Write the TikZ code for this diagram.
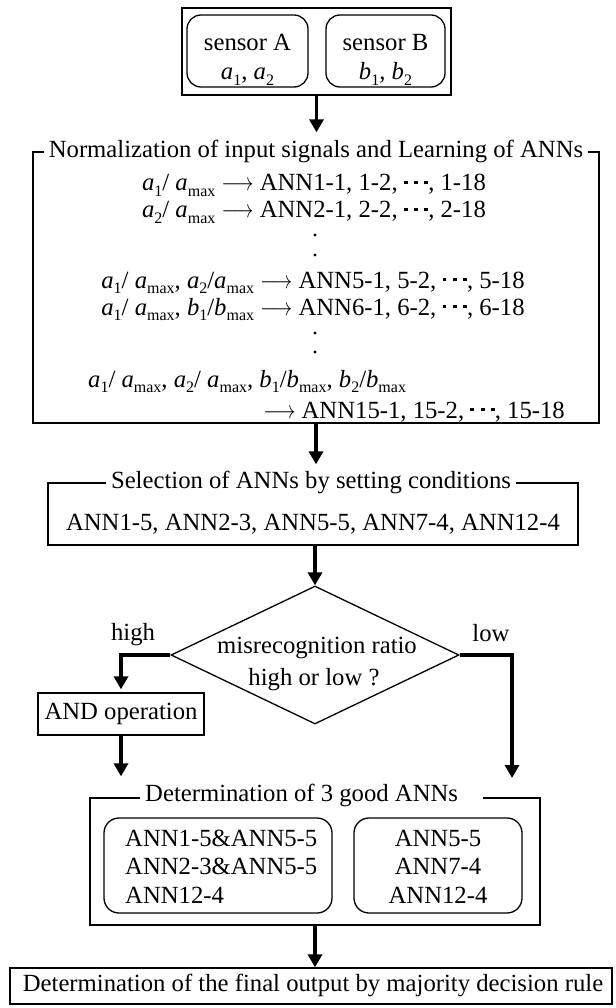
\documentclass[tikz,border=0pt]{standalone}
\usepackage{graphicx}
\usepackage{fontspec}
\setmainfont{Liberation Serif}
\usetikzlibrary{arrows.meta,shapes.geometric}
\newcommand{\sbs}[1]{\raisebox{-0.24em}{\fontsize{16}{16}\selectfont #1}}
\newcommand{\nrm}[2]{\textit{#1}\sbs{#2}}
\newcommand{\sqbox}{\raisebox{0.27em}{\rule{3.8pt}{3.8pt}}}
\newcommand{\sqd}{\sqbox\hspace{6.5pt}\sqbox\hspace{6.5pt}\sqbox}
\newcommand{\larr}{\scalebox{0.8}[1]{$\longrightarrow$}}
\tikzset{
  every node/.style={font=\fontsize{24.7}{29}\selectfont},
  frame/.style={draw, line width=1.3pt, inner sep=0pt},
  rbox/.style={draw, line width=1.3pt, rounded corners=14pt, inner sep=0pt},
  ttl/.style={fill=white, inner xsep=5pt, inner ysep=2pt},
  txt/.style={inner sep=0pt},
  vdot/.style={fill=black},
  arr/.style={line width=3.6pt, -{Triangle[length=13pt,width=14pt]}}
}
\begin{document}
\begin{tikzpicture}[x=1pt,y=-1pt]
\useasboundingbox (0,0) rectangle (615,1008);
% sensors
\node[frame, minimum width=269pt, minimum height=87pt] (top) at (316.5,51.5) {};
\node[rbox, minimum width=121pt, minimum height=72pt] (sa) at (247.5,51) {};
\node[rbox, minimum width=119pt, minimum height=72pt] (sb) at (385.5,51) {};
\node[txt, anchor=base] (sat1) at (247.5,51) {sensor A};
\node[txt, anchor=base] (sat2) at (247.5,80) {\nrm{a}{1}, \nrm{a}{2}};
\node[txt, anchor=base] (sbt1) at (385.5,51) {sensor B};
\node[txt, anchor=base] (sbt2) at (385.5,80) {\nrm{b}{1}, \nrm{b}{2}};
% normalization
\node[frame, minimum width=566pt, minimum height=271pt] (norm) at (316,287.5) {};
\node[ttl, anchor=base] (normt) at (316,158) {Normalization of input signals and Learning of ANNs};
\node[txt, anchor=base] (l1) at (314,191) {\nrm{a}{1}/ \nrm{a}{max} \larr{} ANN1-1, 1-2, \sqd, 1-18};
\node[txt, anchor=base] (l2) at (314,218) {\nrm{a}{2}/ \nrm{a}{max} \larr{} ANN2-1, 2-2, \sqd, 2-18};
\fill[vdot] (315,235) circle (1.6pt);
\fill[vdot] (315,255) circle (1.6pt);
\node[txt, anchor=base] (l5) at (313,288) {\nrm{a}{1}/ \nrm{a}{max}, \nrm{a}{2}/\nrm{a}{max} \larr{} ANN5-1, 5-2, \sqd, 5-18};
\node[txt, anchor=base] (l6) at (313,315) {\nrm{a}{1}/ \nrm{a}{max}, \nrm{b}{1}/\nrm{b}{max} \larr{} ANN6-1, 6-2, \sqd, 6-18};
\fill[vdot] (315,333) circle (1.6pt);
\fill[vdot] (315,352) circle (1.6pt);
\node[txt, anchor=base west] (l7) at (88,387) {\nrm{a}{1}/ \nrm{a}{max}, \nrm{a}{2}/ \nrm{a}{max}, \nrm{b}{1}/\nrm{b}{max}, \nrm{b}{2}/\nrm{b}{max}};
\node[txt, anchor=base east] (l8) at (565,418) {\larr{} ANN15-1, 15-2, \sqd, 15-18};
% selection
\node[frame, minimum width=530pt, minimum height=62pt] (sel) at (313,514) {};
\node[ttl, anchor=base] (selt) at (311,488) {Selection of ANNs by setting conditions};
\node[txt, anchor=base] (selx) at (313,530) {ANN1-5, ANN2-3, ANN5-5, ANN7-4, ANN12-4};
% decision
\node[diamond, draw, line width=1.3pt, inner sep=0pt, minimum width=288pt, minimum height=138pt, aspect=2.087] (dec) at (315,655) {};
\node[txt, anchor=base] (dect1) at (317,653) {misrecognition ratio};
\node[txt, anchor=base] (dect2) at (314,685) {high or low ?};
\node[txt, anchor=base] (hi) at (133,640) {high};
\node[txt, anchor=base] (lo) at (491,641) {low};
% AND
\node[frame, minimum width=166pt, minimum height=42pt] (andb) at (121,714) {};
\node[txt] (andt) at (121,714) {AND operation};
% determination
\node[frame, minimum width=450pt, minimum height=127pt] (det) at (315,861.5) {};
\node[ttl, anchor=base west, inner xsep=0pt] (dett) at (140,801) {\kern5pt Determination of 3 good ANNs\kern25pt};
\node[rbox, minimum width=228pt, minimum height=95pt, rounded corners=15pt] (dl) at (218,865.5) {};
\node[rbox, minimum width=168pt, minimum height=95pt, rounded corners=15pt] (dr) at (438,865.5) {};
\node[txt, anchor=base west] (dl1) at (125,846) {ANN1-5\&ANN5-5};
\node[txt, anchor=base west] (dl2) at (125,874) {ANN2-3\&ANN5-5};
\node[txt, anchor=base west] (dl3) at (125,903) {ANN12-4};
\node[txt, anchor=base] (dr1) at (438,846) {ANN5-5};
\node[txt, anchor=base] (dr2) at (438,874) {ANN7-4};
\node[txt, anchor=base] (dr3) at (438,903) {ANN12-4};
% final
\node[frame, minimum width=602pt, minimum height=36pt] (fin) at (311,986) {};
\node[txt] (fint) at (313,985) {Determination of the final output by majority decision rule};
% connectors
\coordinate (lowend) at (512,778);
\draw[arr, shorten >=19pt] (top.south) -- (top.south |- norm.north);
\draw[arr, shorten >=18pt] (norm.south) -- (norm.south |- sel.north);
\draw[arr] (sel.south -| dec.north) -- (dec.north);
\draw[arr, shorten >=3pt] (dec.west) -| (andb.north);
\draw[arr] (dec.east) -| (lowend);
\draw[arr, shorten >=21pt] (andb.south) -- (andb.south |- det.north);
\draw[arr] (det.south) -- (det.south |- fin.north);
\end{tikzpicture}
\end{document}
